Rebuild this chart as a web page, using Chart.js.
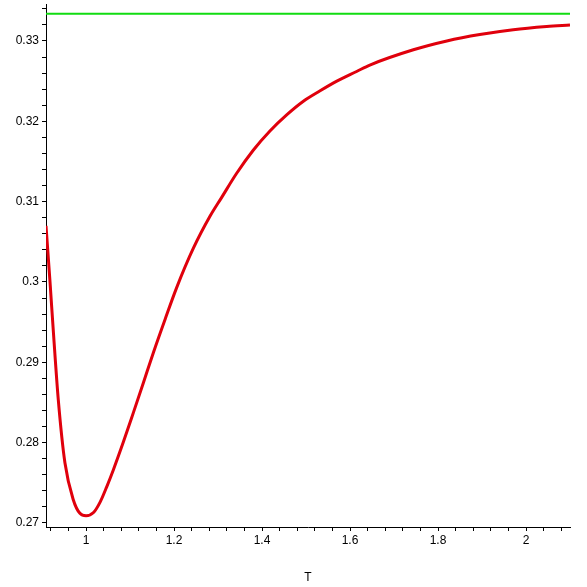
<!DOCTYPE html>
<html>
<head>
<meta charset="utf-8">
<script src="https://cdn.jsdelivr.net/npm/chart.js@4.4.0/dist/chart.umd.min.js"></script>
<style>
  body { margin: 0; background: #fff; }
</style>
</head>
<body>
<canvas id="plot" width="587" height="587"></canvas>
<script>
// Curve: T on the x axis, value on the y axis
const tValues = [0.909, 0.918, 0.926, 0.937, 0.952, 0.971, 0.986, 1.0, 1.017, 1.032, 1.047, 1.062, 1.085, 1.108, 1.13, 1.153, 1.18, 1.206, 1.244, 1.282, 1.308, 1.342, 1.38, 1.418, 1.456, 1.494, 1.532, 1.57, 1.615, 1.645, 1.744, 1.82, 1.895, 1.971, 2.047, 2.1];
const curveValues = [0.3070, 0.3001, 0.2936, 0.2853, 0.2775, 0.2729, 0.2712, 0.2709, 0.2713, 0.2726, 0.2745, 0.2766, 0.2801, 0.2838, 0.2874, 0.2912, 0.2954, 0.2993, 0.3042, 0.3082, 0.3105, 0.3135, 0.3164, 0.3188, 0.3208, 0.3225, 0.3238, 0.3250, 0.3262, 0.3270, 0.3289, 0.3300, 0.3308, 0.3314, 0.3318, 0.3320];

// Horizontal asymptote (green line)
const limitValue = 0.3334;
const limitRange = [0.909, 2.1];

// Labelled ticks
const xTicks = [1, 1.2, 1.4, 1.6, 1.8, 2];
const xTickLabels = ['1', '1.2', '1.4', '1.6', '1.8', '2'];
const yTicks = [0.27, 0.28, 0.29, 0.3, 0.31, 0.32, 0.33];
const yTickLabels = ['0.27', '0.28', '0.29', '0.3', '0.31', '0.32', '0.33'];

// small helper: label for a tick value, '' for minor ticks
function labelFor(value, ticks, labels) {
    const i = ticks.findIndex(t => Math.abs(t - value) < 1e-6);
    return i >= 0 ? labels[i] : '';
}

// minor ticks between min and max with a fixed step
function minorTicks(min, max, step) {
    const out = [];
    const first = Math.ceil(min / step - 1e-9);
    for (let k = first; k * step <= max + 1e-9; k++) {
        out.push({ value: Math.round(k * step * 1e6) / 1e6 });
    }
    return out;
}

const tickFont = { family: 'Liberation Sans, Arial, sans-serif', size: 12 };

const ctx = document.getElementById('plot').getContext('2d');
const plot = new Chart(ctx, {
    type: 'line',
    data: {
        datasets: [{
            data: tValues.map((t, i) => ({ x: t, y: curveValues[i] })),
            borderColor: '#e0000c',
            borderWidth: 3,
            pointRadius: 0,
            cubicInterpolationMode: 'monotone',
            fill: false
        }, {
            data: limitRange.map(t => ({ x: t, y: limitValue })),
            borderColor: '#12dc12',
            borderWidth: 2,
            pointRadius: 0,
            fill: false
        }]
    },
    options: {
        responsive: false,
        animation: false,
        layout: {
            padding: { top: 4, right: 17, left: 0, bottom: 0 }
        },
        scales: {
            x: {
                type: 'linear',
                min: 0.909,
                max: 2.1,
                afterBuildTicks: scale => { scale.ticks = minorTicks(0.909, 2.1, 0.04); },
                afterFit: scale => {
                    scale.height = 60;
                    scale.paddingLeft = 0;
                    scale.paddingRight = 0;
                },
                border: { display: true, color: '#000', width: 1 },
                grid: {
                    drawOnChartArea: false,
                    tickLength: 4,
                    tickColor: '#000'
                },
                ticks: {
                    autoSkip: false,
                    maxRotation: 0,
                    padding: 2,
                    color: '#000',
                    font: tickFont,
                    callback: value => labelFor(value, xTicks, xTickLabels)
                },
                title: {
                    display: true,
                    text: 'T',
                    color: '#000',
                    font: tickFont,
                    padding: { top: 0, bottom: 2 }
                }
            },
            y: {
                min: 0.2695,
                max: 0.3346,
                afterBuildTicks: scale => { scale.ticks = minorTicks(0.2695, 0.3346, 0.002); },
                afterFit: scale => {
                    scale.width = 46;
                    scale.paddingTop = 0;
                    scale.paddingBottom = 0;
                },
                border: { display: true, color: '#000', width: 1 },
                grid: {
                    drawOnChartArea: false,
                    tickLength: 4,
                    tickColor: '#000'
                },
                ticks: {
                    autoSkip: false,
                    padding: 3,
                    color: '#000',
                    font: tickFont,
                    callback: value => labelFor(value, yTicks, yTickLabels)
                }
            }
        },
        plugins: {
            legend: { display: false },
            tooltip: { enabled: false }
        }
    }
});
</script>
</body>
</html>
